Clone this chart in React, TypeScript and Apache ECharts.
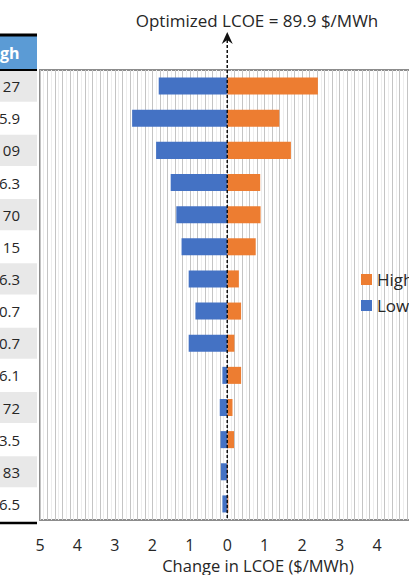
import React, { useEffect, useRef } from "react";
import * as echarts from "echarts";

const rowLabels = ["27", "5.9", "09", "6.3", "70", "15", "6.3", "0.7", "0.7", "6.1", "72", "3.5", "83", "6.5"];
const rowIds = rowLabels.map((_, i) => `row${i + 1}`);
const headerLabel = "gh";
const lowValues = [-1.83, -2.54, -1.9, -1.51, -1.36, -1.22, -1.03, -0.85, -1.03, -0.13, -0.2, -0.18, -0.17, -0.13];
const highValues = [2.42, 1.39, 1.7, 0.88, 0.89, 0.76, 0.31, 0.37, 0.19, 0.37, 0.14, 0.18, 0.02, 0.03];
const seriesNames = ["High", "Low"];
const titleText = "Optimized LCOE = 89.9 $/MWh";
const axisTitle = "Change in LCOE ($/MWh)";

const FONT = "'Open Sans', sans-serif";
const TEXT = "#262626";

export default function App() {
  const ref = useRef<HTMLDivElement>(null);
  useEffect(() => {
    const chart = echarts.init(ref.current!, null, { renderer: "svg" });
    chart.setOption({
      animation: false,
      textStyle: { fontFamily: FONT },
      grid: {
        left: 40,
        top: 70,
        right: -5.5,
        bottom: 55,
        show: true,
        borderColor: "#8c8c8c",
        borderWidth: 2,
        containLabel: false,
        outerBoundsMode: "none",
      },
      legend: {
        data: seriesNames,
        orient: "vertical",
        left: 361,
        top: 271,
        padding: 0,
        icon: "rect",
        itemWidth: 11,
        itemHeight: 11,
        itemGap: 9,
        textStyle: { fontSize: 17, color: TEXT, fontFamily: FONT },
      },
      xAxis: [
        {
          type: "value",
          min: -5,
          max: 5,
          interval: 1,
          z: 2,
          axisLine: { show: false },
          axisTick: { show: false },
          axisLabel: {
            formatter: (v: number) => String(Math.abs(v)),
            fontSize: 16,
            lineHeight: 14,
            color: TEXT,
            margin: 18,
            fontFamily: FONT,
          },
          splitLine: { show: true, lineStyle: { color: "#c4c4c4", width: 1 } },
          minorTick: { show: false, splitNumber: 5 },
          minorSplitLine: { show: true, lineStyle: { color: "#c4c4c4", width: 1 } },
        },
        {
          type: "value",
          min: -5,
          max: 5,
          interval: 0.1,
          position: "top",
          z: 0,
          axisLine: { show: false },
          axisTick: { show: false },
          axisLabel: { show: false },
          splitLine: { show: true, lineStyle: { color: "#ededed", width: 1 } },
        },
      ],
      yAxis: {
        type: "category",
        data: rowIds,
        inverse: true,
        axisLine: { show: false },
        axisTick: { show: false },
        axisLabel: { show: false },
        splitLine: { show: false },
      },
      series: [
        {
          name: seriesNames[0],
          type: "bar",
          data: highValues,
          barWidth: "53%",
          barGap: "-100%",
          itemStyle: { color: "#ED7D31" },
          z: 3,
        },
        {
          name: seriesNames[1],
          type: "bar",
          data: lowValues,
          barWidth: "53%",
          itemStyle: { color: "#4472C4" },
          z: 3,
        },
      ],
    });

    const x0 = chart.convertToPixel({ xAxisIndex: 0 }, 0) as number;
    const ys = rowIds.map((id) => chart.convertToPixel({ yAxisIndex: 0 }, id) as number);
    const band = ys[1] - ys[0];
    const gridTop = ys[0] - band / 2;
    const gridBottom = ys[ys.length - 1] + band / 2;
    const tableW = 37;

    const elements: any[] = [];
    elements.push({
      type: "rect",
      shape: { x: 0, y: 36, width: tableW, height: gridTop - 36 },
      style: { fill: "#5B9BD5" },
    });
    elements.push({
      type: "line",
      shape: { x1: 0, y1: 35, x2: tableW, y2: 35 },
      style: { stroke: "#000", lineWidth: 3 },
    });
    elements.push({
      type: "text",
      x: 0,
      y: (36 + gridTop) / 2,
      style: {
        text: headerLabel,
        fill: "#fff",
        fontSize: 16,
        fontWeight: "bold",
        fontFamily: FONT,
        align: "left",
        verticalAlign: "middle",
      },
    });
    rowLabels.forEach((lab, i) => {
      if (i % 2 === 0) {
        elements.push({
          type: "rect",
          shape: { x: 0, y: ys[i] - band / 2 + 0.5, width: tableW, height: band - 1 },
          style: { fill: "#e8e8e8" },
        });
      }
      elements.push({
        type: "text",
        x: 20,
        y: ys[i],
        style: {
          text: lab,
          fill: TEXT,
          fontSize: 15,
          fontFamily: FONT,
          align: "right",
          verticalAlign: "middle",
        },
      });
    });
    elements.push({
      type: "line",
      shape: { x1: 0, y1: gridTop, x2: tableW, y2: gridTop },
      style: { stroke: "#000", lineWidth: 2 },
    });
    elements.push({
      type: "line",
      shape: { x1: 0, y1: gridBottom + 3, x2: tableW, y2: gridBottom + 3 },
      style: { stroke: "#000", lineWidth: 2.5 },
    });
    elements.push({
      type: "line",
      z: 100,
      shape: { x1: x0, y1: 40, x2: x0, y2: gridBottom },
      style: { stroke: "#111", lineWidth: 1.5, lineDash: [3, 2] },
    });
    elements.push({
      type: "polygon",
      z: 100,
      shape: {
        points: [
          [x0, 32],
          [x0 - 5.5, 44],
          [x0, 40],
          [x0 + 5.5, 44],
        ],
      },
      style: { fill: "#111" },
    });
    elements.push({
      type: "text",
      x: 257,
      y: 20,
      style: {
        text: titleText,
        fill: TEXT,
        fontSize: 17,
        fontFamily: FONT,
        align: "center",
        verticalAlign: "middle",
      },
    });
    elements.push({
      type: "text",
      x: 258,
      y: 565,
      style: {
        text: axisTitle,
        fill: TEXT,
        fontSize: 16.5,
        lineHeight: 16,
        fontFamily: FONT,
        align: "center",
        verticalAlign: "middle",
      },
    });

    chart.setOption({ graphic: { elements } });
    return () => chart.dispose();
  }, []);

  return (
    <div
      ref={ref}
      style={{ position: "absolute", left: 0, top: 0, width: 409, height: 575, background: "#fff" }}
    />
  );
}
